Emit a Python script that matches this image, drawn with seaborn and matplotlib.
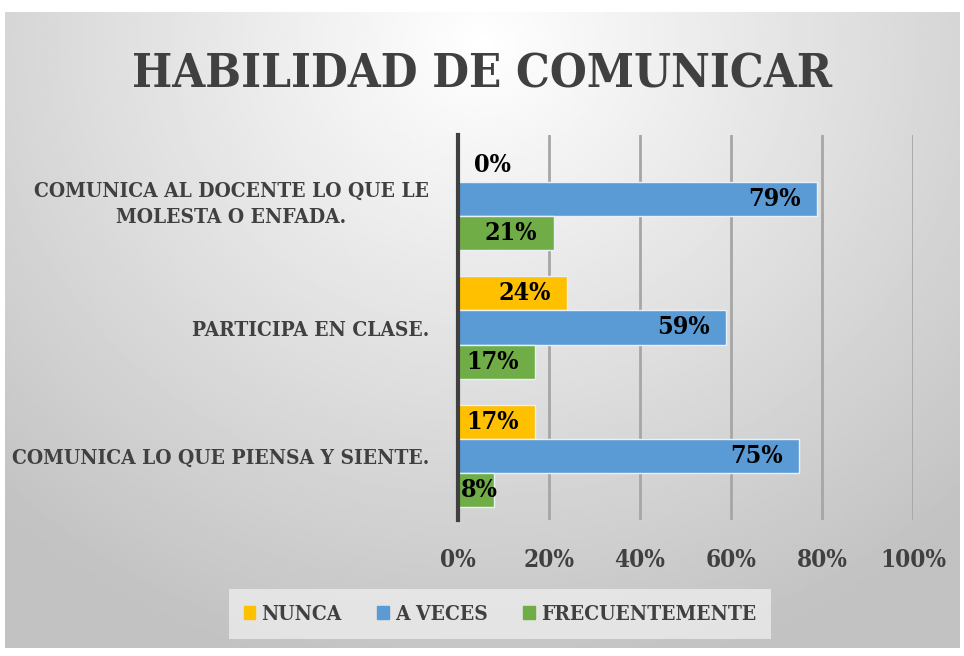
import numpy as np
import pandas as pd
import matplotlib
matplotlib.use("Agg")
import matplotlib.pyplot as plt
import seaborn as sns

# data
categories = ["COMUNICA AL DOCENTE LO QUE LE\nMOLESTA O ENFADA.",
              "PARTICIPA EN CLASE.",
              "COMUNICA LO QUE PIENSA Y SIENTE."]
series = ["NUNCA", "A VECES", "FRECUENTEMENTE"]
nunca = [0, 24, 17]
a_veces = [79, 59, 75]
frecuentemente = [21, 17, 8]
colors = ["#FFC000", "#5B9BD5", "#70AD47"]
xticks = [0, 20, 40, 60, 80, 100]

df = pd.DataFrame({
    "Categoria": categories * 3,
    "Serie": [s for s in series for _ in categories],
    "Valor": nunca + a_veces + frecuentemente,
})

sns.set_theme(style="white")
FAM = "DejaVu Serif"
FONT = dict(family=FAM, fontweight="bold", fontstretch="condensed")
TXT = "#404040"

fig = plt.figure(figsize=(9.64, 6.56), dpi=100)

# gradient background panel
bg = fig.add_axes([5 / 964, 8 / 656, 955 / 964, 636 / 656])
yy, xx = np.mgrid[0:1:300j, 0:1:400j]
r = np.sqrt(((xx - 0.5) / 0.8) ** 2 + ((yy - 0.05) / 1.1) ** 2)
shade = np.clip(1.0 - 0.26 * r, 0.76, 1.0)
bg.imshow(shade, cmap="gray", vmin=0, vmax=1, aspect="auto",
          extent=[0, 1, 0, 1], origin="upper")
bg.set_axis_off()

ax = fig.add_axes([458 / 964, 136 / 656, 455 / 964, 385 / 656])
ax.patch.set_alpha(0)
sns.barplot(data=df, y="Categoria", x="Valor", hue="Serie", order=categories,
            hue_order=series, palette=colors, orient="h", width=0.8,
            saturation=1, edgecolor="#e8f0f8", linewidth=1, ax=ax)

ax.set_xlim(0, 100)
ax.set_xticks(xticks)
ax.set_xticklabels([f"{t}%" for t in xticks], color=TXT, fontsize=17.5, **FONT)
ax.tick_params(axis="x", length=0, pad=20)
ax.tick_params(axis="y", length=0, pad=21)
for lbl in ax.get_yticklabels():
    lbl.set_fontsize(15)
    lbl.set_color(TXT)
    lbl.set_fontweight("bold")
    lbl.set_family(FAM)
    lbl.set_fontstretch("condensed")
    lbl.set_horizontalalignment("right")
    lbl.set_multialignment("center")
    lbl.set_linespacing(1.35)
ax.set_xlabel("")
ax.set_ylabel("")
ax.grid(axis="x", color="#a6a6a6", linewidth=2)
ax.set_axisbelow(True)
for side in ["top", "right", "bottom"]:
    ax.spines[side].set_visible(False)
ax.spines["left"].set_color("#404040")
ax.spines["left"].set_linewidth(3)

# data labels, inside end
for cont in ax.containers:
    for bar in cont:
        w = bar.get_width()
        yc = bar.get_y() + bar.get_height() / 2
        if w < 15:
            ax.text(0.6 if w > 0 else 3.5, yc, f"{w:.0f}%", ha="left", va="center",
                    color="black", fontsize=18, **FONT)
        else:
            ax.text(w - 3.6, yc, f"{w:.0f}%", ha="right", va="center",
                    color="black", fontsize=18, **FONT)

ax.legend_.remove()
handles = [plt.Rectangle((0, 0), 1, 1, color=c) for c in colors]
leg = fig.legend(handles, series, loc="center", bbox_to_anchor=(500 / 964, 1 - 614 / 656),
                 ncol=3, frameon=True, handlelength=0.55, handleheight=0.55,
                 handletextpad=0.3, columnspacing=1.7, borderpad=0.7,
                 prop=dict(family=FAM, weight="bold", stretch="condensed", size=15))
leg.get_frame().set_facecolor("#ececec")
leg.get_frame().set_edgecolor("none")
leg.get_frame().set_alpha(0.8)
leg.get_frame().set_boxstyle("square", pad=0)
for t in leg.get_texts():
    t.set_color(TXT)

fig.text(0.5, 1 - 75 / 656, "HABILIDAD DE COMUNICAR", ha="center", va="center",
         color=TXT, fontsize=34, **FONT)

fig.savefig("out.png", dpi=100)
